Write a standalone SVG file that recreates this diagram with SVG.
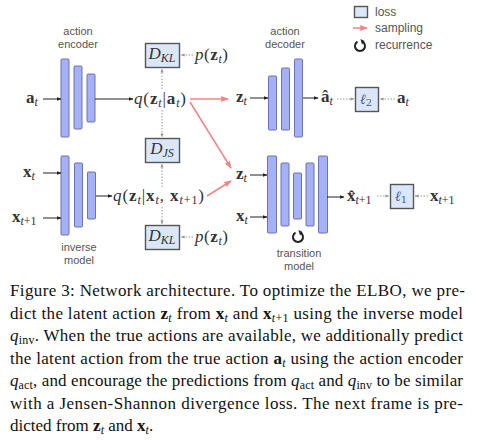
<svg xmlns="http://www.w3.org/2000/svg" width="477" height="441" viewBox="0 0 477 441">
<style>
.lbl{font-family:"Liberation Sans",Arial,sans-serif;font-size:11px;fill:#555;text-anchor:middle}
.leg{font-family:"Liberation Sans",Arial,sans-serif;font-size:12px;fill:#555}
.m{font-family:"Liberation Serif","DejaVu Serif",serif;font-size:17px;fill:#333}
.b{font-weight:bold}
.i{font-style:italic}
.s{font-size:12px}
.ell{font-family:"DejaVu Serif","Liberation Serif",serif;font-size:14px;fill:#4a5a85;text-anchor:middle}
.bar{fill:#a6b0f4;stroke:#6a73b5;stroke-width:1}
.loss{fill:#dbe7f8;stroke:#555;stroke-width:1.4}
.sol{stroke:#222;stroke-width:1;fill:none}
.dot{stroke:#9a9a9a;stroke-width:1;stroke-dasharray:1.5 1.5;fill:none}
.red{stroke:#f08585;stroke-width:1.5;fill:none}
.cap{font-family:"Liberation Serif","Times New Roman",serif;font-size:17px;fill:#111}
.cs{font-size:12px}
</style>
<defs>
<marker id="ab" viewBox="0 0 10 10" refX="9" refY="5" markerWidth="5" markerHeight="5" orient="auto"><path d="M0,1 L10,5 L0,9 z" fill="#222"/></marker>
<marker id="ag" viewBox="0 0 10 10" refX="9" refY="5" markerWidth="4" markerHeight="4" orient="auto"><path d="M0,1 L10,5 L0,9 z" fill="#9a9a9a"/></marker>
<marker id="ar" viewBox="0 0 10 10" refX="9" refY="5" markerWidth="5" markerHeight="5" orient="auto"><path d="M0,1 L10,5 L0,9 z" fill="#f08585"/></marker>
</defs>

<g id="legend">
<rect class="loss" x="354.5" y="6.5" width="13" height="11"/>
<text class="leg" x="375" y="16">loss</text>
<path class="red" d="M353,28 H367" marker-end="url(#ar)"/>
<text class="leg" x="375" y="32">sampling</text>
<path d="M357.5,41.7 A5,5 0 1 0 362.5,41.7" fill="none" stroke="#222" stroke-width="2"/>
<path d="M360.5,39 L364.5,41 L362,44.5 z" fill="#222"/>
<text class="leg" x="375" y="49">recurrence</text>
</g>

<g id="action-encoder">
<text class="lbl" x="78" y="35">action</text>
<text class="lbl" x="78" y="48">encoder</text>
<rect class="bar" x="61" y="59" width="8" height="78" rx="1"/>
<rect class="bar" x="74" y="66" width="8" height="63" rx="1"/>
<rect class="bar" x="87" y="74" width="8" height="48" rx="1"/>
</g>

<g id="inverse-model">
<rect class="bar" x="61" y="156" width="8" height="79" rx="1"/>
<rect class="bar" x="74.5" y="163" width="8" height="64" rx="1"/>
<rect class="bar" x="87.5" y="172" width="8" height="47" rx="1"/>
<text class="lbl" x="79" y="251">inverse</text>
<text class="lbl" x="79" y="264">model</text>
</g>

<g id="action-decoder">
<text class="lbl" x="285" y="35">action</text>
<text class="lbl" x="285" y="48">decoder</text>
<rect class="bar" x="268.5" y="76" width="8" height="54" rx="1"/>
<rect class="bar" x="281.5" y="68" width="8" height="62" rx="1"/>
<rect class="bar" x="294.5" y="59" width="8" height="78" rx="1"/>
</g>

<g id="transition-model">
<rect class="bar" x="267.5" y="156" width="9" height="77" rx="1"/>
<rect class="bar" x="281" y="163" width="8" height="63" rx="1"/>
<rect class="bar" x="293.5" y="173" width="8" height="46" rx="1"/>
<rect class="bar" x="306" y="163" width="8" height="63" rx="1"/>
<rect class="bar" x="318.5" y="156" width="9" height="77" rx="1"/>
<path d="M295.5,232.7 A5,5 0 1 0 300.5,232.7" fill="none" stroke="#222" stroke-width="2"/>
<path d="M298.5,230 L302.5,232 L300,235.5 z" fill="#222"/>
<text class="lbl" x="299" y="257">transition</text>
<text class="lbl" x="299" y="270">model</text>
</g>

<g id="dkl-top">
<rect class="loss" x="145.5" y="43.5" width="34" height="24"/>
<text class="m" x="162" y="59" text-anchor="middle"><tspan class="i">D</tspan><tspan class="i s" dy="3">KL</tspan></text>
<text class="m" x="195" y="60" textLength="33"><tspan class="i">p</tspan>(<tspan class="b">z</tspan><tspan class="i s" dy="3">t</tspan><tspan dy="-3">)</tspan></text>
</g>

<g id="djs">
<rect class="loss" x="145.5" y="138.5" width="34" height="24"/>
<text class="m" x="162" y="154" text-anchor="middle"><tspan class="i">D</tspan><tspan class="i s" dy="3">JS</tspan></text>
</g>

<g id="dkl-bottom">
<rect class="loss" x="145.5" y="225.5" width="34" height="24"/>
<text class="m" x="162" y="241" text-anchor="middle"><tspan class="i">D</tspan><tspan class="i s" dy="3">KL</tspan></text>
<text class="m" x="195" y="242" textLength="33"><tspan class="i">p</tspan>(<tspan class="b">z</tspan><tspan class="i s" dy="3">t</tspan><tspan dy="-3">)</tspan></text>
</g>

<g id="inputs">
<text class="m" x="26" y="103"><tspan class="b">a</tspan><tspan class="i s" dy="3">t</tspan></text>
<text class="m" x="23" y="177"><tspan class="b">x</tspan><tspan class="i s" dy="3">t</tspan></text>
<text class="m" x="12" y="222"><tspan class="b">x</tspan><tspan class="s" dy="3"><tspan class="i">t</tspan>+1</tspan></text>
</g>

<g id="q-act">
<text class="m" x="134" y="104" textLength="52"><tspan class="i">q</tspan>(<tspan class="b">z</tspan><tspan class="i s" dy="3">t</tspan><tspan dy="-3">|</tspan><tspan class="b">a</tspan><tspan class="i s" dy="3">t</tspan><tspan dy="-3">)</tspan></text>
</g>

<g id="q-inv">
<text class="m" x="113" y="201" textLength="91"><tspan class="i">q</tspan>(<tspan class="b">z</tspan><tspan class="i s" dy="3">t</tspan><tspan dy="-3">|</tspan><tspan class="b">x</tspan><tspan class="i s" dy="3">t</tspan><tspan dy="-3">, </tspan><tspan class="b">x</tspan><tspan class="s" dy="3"><tspan class="i">t</tspan>+1</tspan><tspan dy="-3">)</tspan></text>
</g>

<g id="decoder-io">
<text class="m" x="236" y="102"><tspan class="b">z</tspan><tspan class="i s" dy="3">t</tspan></text>
<text class="m" x="321" y="102"><tspan class="b">â</tspan><tspan class="i s" dy="3">t</tspan></text>
<rect class="loss" x="355.5" y="87.5" width="23" height="24"/>
<text class="ell" x="366" y="104"><tspan class="i">ℓ</tspan><tspan font-size="10" dy="2">2</tspan></text>
<text class="m" x="397" y="103"><tspan class="b">a</tspan><tspan class="i s" dy="3">t</tspan></text>
</g>

<g id="transition-io">
<text class="m" x="236" y="179"><tspan class="b">z</tspan><tspan class="i s" dy="3">t</tspan></text>
<text class="m" x="236" y="221"><tspan class="b">x</tspan><tspan class="i s" dy="3">t</tspan></text>
<text class="m" x="347" y="201"><tspan class="b">x̂</tspan><tspan class="s" dy="3"><tspan class="i">t</tspan>+1</tspan></text>
<rect class="loss" x="390.5" y="184.5" width="23" height="24"/>
<text class="ell" x="401" y="201"><tspan class="i">ℓ</tspan><tspan font-size="10" dy="2">1</tspan></text>
<text class="m" x="430" y="201"><tspan class="b">x</tspan><tspan class="s" dy="3"><tspan class="i">t</tspan>+1</tspan></text>
</g>

<g id="connectors">
<path class="sol" d="M43,99 H61" marker-end="url(#ab)"/>
<path class="sol" d="M95,99 H133" marker-end="url(#ab)"/>
<path class="sol" d="M43,173 H61" marker-end="url(#ab)"/>
<path class="sol" d="M43,218 H61" marker-end="url(#ab)"/>
<path class="sol" d="M96,196 H112" marker-end="url(#ab)"/>
<path class="sol" d="M250,98 H268" marker-end="url(#ab)"/>
<path class="sol" d="M303,98 H318" marker-end="url(#ab)"/>
<path class="sol" d="M250,175 H267" marker-end="url(#ab)"/>
<path class="sol" d="M250,217 H267" marker-end="url(#ab)"/>
<path class="sol" d="M327,197 H344" marker-end="url(#ab)"/>
<path class="dot" d="M193,55 H181" marker-end="url(#ag)"/>
<path class="dot" d="M162,89 V69" marker-end="url(#ag)"/>
<path class="dot" d="M162,110 V137" marker-end="url(#ag)"/>
<path class="dot" d="M162,187 V164" marker-end="url(#ag)"/>
<path class="dot" d="M162,207 V224" marker-end="url(#ag)"/>
<path class="dot" d="M193,237 H181" marker-end="url(#ag)"/>
<path class="dot" d="M337,99 H354" marker-end="url(#ag)"/>
<path class="dot" d="M395,99 H380" marker-end="url(#ag)"/>
<path class="dot" d="M377,196 H389" marker-end="url(#ag)"/>
<path class="dot" d="M428,196 H415" marker-end="url(#ag)"/>
<path class="red" d="M190,99 H228" marker-end="url(#ar)"/>
<path class="red" d="M190,102 L231,168" marker-end="url(#ar)"/>
<path class="red" d="M207,196 L231,181" marker-end="url(#ar)"/>
</g>

<g id="caption">
<text class="cap" x="10" y="296" textLength="455" lengthAdjust="spacing">Figure 3: Network architecture. To optimize the ELBO, we pre-</text>
<text class="cap" x="10" y="318.5" textLength="453" lengthAdjust="spacing">dict the latent action <tspan class="b">z</tspan><tspan class="i cs" dy="3">t</tspan><tspan dy="-3"> from </tspan><tspan class="b">x</tspan><tspan class="i cs" dy="3">t</tspan><tspan dy="-3"> and </tspan><tspan class="b">x</tspan><tspan class="cs" dy="3"><tspan class="i">t</tspan>+1</tspan><tspan dy="-3"> using the inverse model</tspan></text>
<text class="cap" x="10" y="341" textLength="453" lengthAdjust="spacing"><tspan class="i">q</tspan><tspan class="cs" dy="3">inv</tspan><tspan dy="-3">. When the true actions are available, we additionally predict</tspan></text>
<text class="cap" x="10" y="363.5" textLength="453" lengthAdjust="spacing">the latent action from the true action <tspan class="b">a</tspan><tspan class="i cs" dy="3">t</tspan><tspan dy="-3"> using the action encoder</tspan></text>
<text class="cap" x="10" y="386" textLength="453" lengthAdjust="spacing"><tspan class="i">q</tspan><tspan class="cs" dy="3">act</tspan><tspan dy="-3">, and encourage the predictions from </tspan><tspan class="i">q</tspan><tspan class="cs" dy="3">act</tspan><tspan dy="-3"> and </tspan><tspan class="i">q</tspan><tspan class="cs" dy="3">inv</tspan><tspan dy="-3"> to be similar</tspan></text>
<text class="cap" x="10" y="408.5" textLength="453" lengthAdjust="spacing">with a Jensen-Shannon divergence loss.  The next frame is pre-</text>
<text class="cap" x="10" y="431">dicted from <tspan class="b">z</tspan><tspan class="i cs" dy="3">t</tspan><tspan dy="-3"> and </tspan><tspan class="b">x</tspan><tspan class="i cs" dy="3">t</tspan><tspan dy="-3">.</tspan></text>
</g>
</svg>
